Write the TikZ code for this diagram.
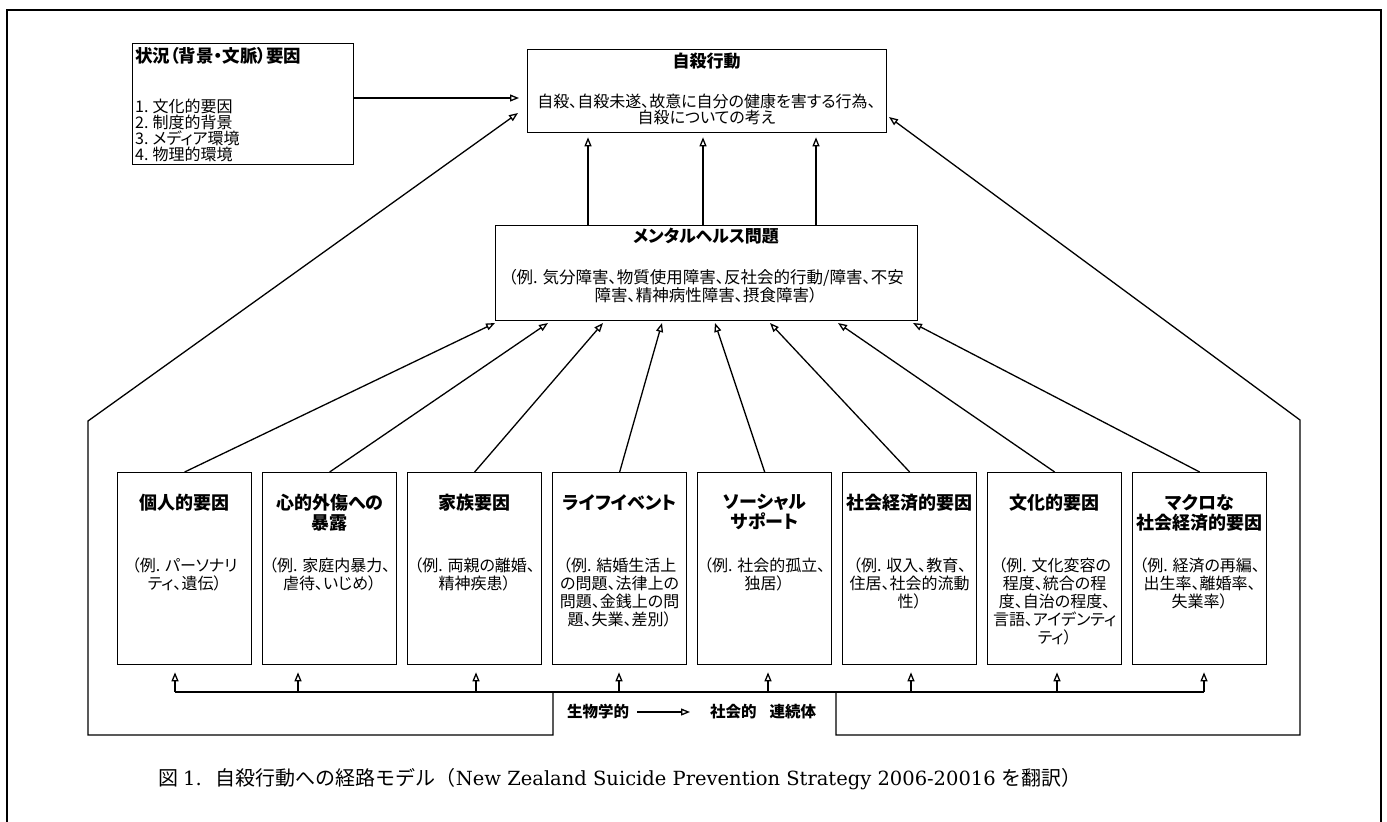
\documentclass[tikz,border=0pt]{standalone}
\usepackage{fontspec}
\usetikzlibrary{arrows.meta,calc}
\newfontfamily\jp[RawFeature=+palt]{Noto Sans CJK JP}
\newfontfamily\jpc{Noto Sans CJK JP}
\newfontfamily\capserif{DejaVu Serif}
\begin{document}
\begin{tikzpicture}[x=1pt,y=-1pt,
  box/.style={draw, line width=1.3pt, inner sep=0pt, anchor=north west},
  ttl/.style={font=\jp\bfseries\fontsize{18}{20}\selectfont, align=center, inner sep=0pt},
  bdy/.style={font=\jp\fontsize{16}{18}\selectfont, align=center, inner sep=0pt},
  lst/.style={font=\jp\fontsize{16}{16}\selectfont, align=left, inner sep=0pt},
  lbl/.style={font=\jp\bfseries\fontsize{15.5}{16}\selectfont, inner sep=0pt},
  con/.style={line width=1.3pt},
  arr/.style={line width=1.3pt, -{Triangle[open,length=9pt,width=7pt]}}]
\useasboundingbox (0,0) rectangle (1387,822);
\fill[white] (0,0) rectangle (1387,822);
% outer frame
\draw[line width=1.3pt] (7,822) -- (7,10) -- (1381,10) -- (1381,822);

% context box
\node[box, minimum width=221pt, minimum height=121pt] (ctx) at (132,43) {};
\node[ttl, anchor=west, font=\jp\bfseries\fontsize{17.5}{20}\selectfont] (ctxt) at (135,56) {状況（背景・文脈）要因};
\node[lst, anchor=north west] (ctxl) at (135,98.5) {1.\hspace{4pt}文化的要因\\2.\hspace{4pt}制度的背景\\3.\hspace{4pt}メディア環境\\4.\hspace{4pt}物理的環境};

% suicide behaviour
\node[box, minimum width=359pt, minimum height=83pt] (sb) at (527,49) {};
\node[ttl, font=\jp\bfseries\fontsize{17}{20}\selectfont] (sbt) at (706.5,61) {自殺行動};
\node[bdy, anchor=north, font=\jp\fontsize{16}{16}\selectfont] (sbb) at (706.5,94) {自殺、自殺未遂、故意に自分の健康を害する行為、\\自殺についての考え};

% mental health
\node[box, minimum width=422pt, minimum height=95pt] (mh) at (495,225) {};
\node[ttl, font=\jp\bfseries\fontsize{17}{20}\selectfont] (mht) at (706,236) {メンタルヘルス問題};
\node[bdy, anchor=north, font=\jp\fontsize{16.5}{16}\selectfont] (mhb) at (706,269) {（例. 気分障害、物質使用障害、反社会的行動/障害、不安\\障害、精神病性障害、摂食障害）};

% bottom boxes
\foreach \i/\t/\b in {
  1/{個人的要因}/{（例. パーソナリ\\ティ、遺伝）},
  2/{心的外傷への\\暴露}/{（例. 家庭内暴力、\\虐待、いじめ）},
  3/{家族要因}/{（例. 両親の離婚、\\精神疾患）},
  4/{ライフイベント}/{（例. 結婚生活上\\の問題、法律上の\\問題、金銭上の問\\題、失業、差別）},
  5/{ソーシャル\\サポート}/{（例. 社会的孤立、\\独居）},
  6/{社会経済的要因}/{（例. 収入、教育、\\住居、社会的流動\\性）},
  7/{文化的要因}/{（例. 文化変容の\\程度、統合の程\\度、自治の程度、\\言語、アイデンティ\\ティ）},
  8/{マクロな\\社会経済的要因}/{（例. 経済の再編、\\出生率、離婚率、\\失業率）}}{
  \node[box, minimum width=134pt, minimum height=192pt] (b\i) at ({117+145*(\i-1)},472) {};
  \node[ttl, anchor=north] (t\i) at ($(b\i.north)+(0,22)$) {\t};
  \node[bdy, anchor=north] (x\i) at ($(b\i.north)+(0,86)$) {\b};
}

% arrows bottom boxes -> mental health
\foreach \i/\mx in {1/495,2/548,3/603,4/662,5/715,6/770,7/838,8/913}{
  \coordinate (m\i) at (\mx,323);
  \draw[arr] (b\i.north) -- (m\i);
}

% mental health -> suicide
\foreach \i/\sx in {1/588,2/703,3/816}{
  \coordinate (s\i) at (\sx,0);
  \draw[arr, shorten >=4pt] (mh.north -| s\i) -- (sb.south -| s\i);
}

% context -> suicide
\coordinate (c1) at (519,98);
\draw[arr] (ctx.east |- c1) -- (c1);

% continuum bracket
\foreach \i/\ux in {1/175,2/298,3/476,4/619,5/768,6/911,7/1057,8/1204}{
  \coordinate (u\i) at (\ux,692);
  \draw[arr, shorten >=7pt] (u\i) -- (u\i |- b\i.south);
}
\draw[con] (u1) -- (u8);

% big loops
\coordinate (la) at (553,692);
\coordinate (lb) at (88,735);
\coordinate (lc) at (88,421);
\coordinate (ld) at (518,113);
\draw[arr] (la) |- (lb) -- (lc) -- (ld);
\coordinate (ra) at (836,692);
\coordinate (rb) at (1300,735);
\coordinate (rc) at (1300,420);
\coordinate (rd) at (889,117);
\draw[arr] (ra) |- (rb) -- (rc) -- (rd);

% continuum label
\node[lbl, anchor=west] (bio) at (567,712) {生物学的};
\node[lbl, anchor=west] (soc) at (710,712) {社会的\hspace{13pt}連続体};
\draw[arr, shorten <=8pt, shorten >=20pt] (bio.east) -- (soc.west);

% caption
\node[anchor=west, inner sep=0pt] (cap) at (158,779) {{\jpc\fontsize{20}{20}\selectfont 図}\hspace{5pt}{\capserif\fontsize{19.5}{20}\selectfont 1.}\hspace{14pt}{\jpc\fontsize{20}{20}\selectfont 自殺行動への経路モデル（}{\capserif\fontsize{19.5}{20}\selectfont New Zealand Suicide Prevention Strategy 2006-20016 }{\jpc\fontsize{20}{20}\selectfont を翻訳）}};
\end{tikzpicture}
\end{document}
